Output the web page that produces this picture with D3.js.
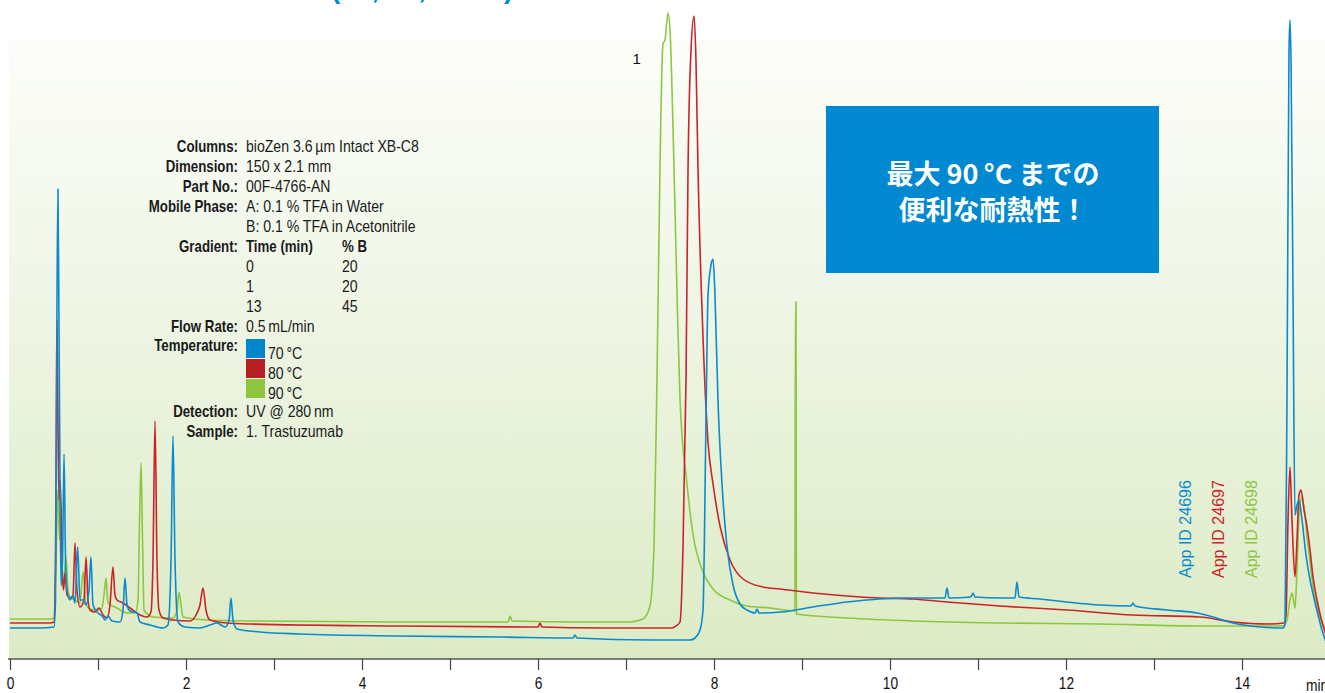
<!DOCTYPE html>
<html>
<head>
<meta charset="utf-8">
<script src="https://cdn.jsdelivr.net/npm/d3@7"></script>
<style>
  html, body { margin: 0; padding: 0; background: #ffffff; }
  svg { display: block; }
</style>
</head>
<body>
<svg id="chart" width="1325" height="693"></svg>
<script>
// Chromatogram traces: [retention time (min), UV 280 nm response (mAU)]
const trace70 = [
  [0,6.2],[0.341,6.2],[0.5,6.4],[0.517,11.8],[0.534,71.8],[0.545,94.0],[0.557,65.8],[0.568,36.8],
  [0.58,14.8],[0.597,19.8],[0.614,41.0],[0.631,19.8],[0.648,13.8],[0.682,11.8],[0.716,12.6],[0.739,11.2],
  [0.769,22.4],[0.795,11.8],[0.83,11.8],[0.864,10.8],[0.898,13.8],[0.92,20.4],[0.943,10.8],[1.0,9.2],
  [1.057,8.4],[1.08,7.8],[1.114,8.6],[1.159,7.6],[1.25,7.4],[1.284,9.8],[1.307,16.2],[1.33,10.8],
  [1.364,9.6],[1.443,9.2],[1.477,7.4],[1.591,6.8],[1.739,6.2],[1.795,6.8],[1.83,19.8],[1.852,44.6],
  [1.875,19.8],[1.909,7.4],[1.989,6.4],[2.159,6.2],[2.273,6.8],[2.352,7.2],[2.443,6.4],[2.489,7.8],
  [2.511,12.2],[2.534,7.8],[2.58,6.0],[2.841,5.4],[3.295,5.0],[4.432,4.6],[5.568,4.4],[6.398,4.2],
  [6.42,4.8],[6.443,4.2],[7.273,3.8],[7.727,3.8],[7.784,4.2],[7.841,5.8],[7.875,9.8],[7.909,47.6],
  [7.932,72.8],[7.966,78.8],[7.989,80.0],[8.011,72.8],[8.045,51.8],[8.091,35.0],[8.148,22.4],[8.216,14.8],
  [8.295,11.0],[8.375,9.8],[8.466,9.2],[8.489,10.0],[8.511,9.2],[8.761,9.4],[9.125,10.4],[9.511,11.4],
  [9.886,12.0],[10.261,12.2],[10.625,12.2],[10.648,14.2],[10.67,12.2],[10.92,12.4],[10.943,13.2],[10.966,12.4],
  [11.25,12.2],[11.42,12.2],[11.443,15.4],[11.466,12.4],[11.705,12.0],[12.011,11.4],[12.386,10.8],[12.739,10.6],
  [12.761,11.2],[12.784,10.6],[13.148,9.8],[13.489,9.2],[13.67,8.4],[13.898,7.2],[14.205,6.4],[14.466,6.2],
  [14.489,7.0],[14.511,51.8],[14.534,121.8],[14.545,127.8],[14.557,119.8],[14.58,71.8],[14.602,28.8],[14.625,30.8],
  [14.648,31.8],[14.682,27.8],[14.727,20.8],[14.773,15.8],[14.818,12.2],[14.864,8.8],[14.909,5.8],[14.955,3.4]
];

const trace80 = [
  [0,7.2],[0.455,7.2],[0.5,7.4],[0.517,19.8],[0.528,51.8],[0.534,67.8],[0.545,47.8],[0.557,31.8],
  [0.568,35.8],[0.58,30.4],[0.591,19.8],[0.608,13.8],[0.625,17.2],[0.648,12.8],[0.682,12.2],[0.716,12.8],
  [0.739,23.2],[0.761,13.8],[0.795,10.4],[0.841,11.8],[0.864,20.4],[0.886,11.8],[0.909,9.8],[0.966,9.4],
  [1.011,10.2],[1.057,8.8],[1.102,8.2],[1.136,10.8],[1.17,18.4],[1.193,12.8],[1.216,11.8],[1.284,11.2],
  [1.364,10.2],[1.477,8.8],[1.557,8.4],[1.602,9.4],[1.625,19.8],[1.648,47.6],[1.67,19.8],[1.693,9.8],
  [1.739,8.2],[1.852,7.8],[2.045,7.6],[2.114,8.8],[2.159,10.8],[2.193,14.2],[2.227,9.8],[2.273,7.8],
  [2.466,7.2],[2.727,7.0],[4.432,6.6],[6.0,6.4],[6.023,7.2],[6.045,6.4],[6.705,6.2],[7.386,6.2],
  [7.523,6.2],[7.568,6.6],[7.614,7.4],[7.648,22.4],[7.682,56.0],[7.705,98.2],[7.739,121.8],[7.773,128.6],
  [7.795,119.8],[7.818,98.2],[7.875,64.4],[7.932,43.4],[7.989,35.0],[8.068,26.6],[8.182,19.8],[8.33,16.0],
  [8.557,14.4],[8.75,14.0],[9.125,13.2],[9.511,12.6],[9.886,12.2],[10.261,12.0],[10.648,11.4],[11.25,10.6],
  [12.011,9.8],[12.761,8.8],[13.523,8.4],[13.898,7.4],[14.284,7.0],[14.477,7.2],[14.5,8.8],[14.523,27.8],
  [14.545,38.4],[14.568,27.8],[14.602,16.4],[14.625,23.8],[14.648,32.8],[14.67,33.8],[14.705,29.8],[14.739,26.4],
  [14.773,21.8],[14.807,16.4],[14.852,11.8],[14.898,8.2],[14.955,4.8]
];

const trace90 = [
  [0,8.0],[0.455,8.0],[0.5,8.2],[0.523,19.8],[0.545,33.8],[0.563,23.8],[0.568,33.2],[0.591,14.4],
  [0.614,15.8],[0.636,20.4],[0.659,13.8],[0.682,12.4],[0.739,11.8],[0.795,11.2],[0.83,17.4],[0.864,10.8],
  [0.909,10.0],[0.989,9.8],[1.045,10.2],[1.068,12.8],[1.091,16.2],[1.114,11.2],[1.216,10.2],[1.33,9.2],
  [1.42,9.2],[1.455,11.8],[1.472,27.8],[1.489,39.2],[1.506,23.8],[1.523,9.8],[1.625,8.4],[1.852,8.2],
  [1.898,9.8],[1.92,13.4],[1.943,10.8],[1.966,8.4],[2.239,7.8],[2.727,7.6],[4.432,7.4],[5.659,7.4],
  [5.682,8.6],[5.705,7.6],[6.477,7.4],[7.045,7.4],[7.193,8.0],[7.273,10.6],[7.318,22.4],[7.352,56.0],
  [7.386,98.2],[7.42,123.0],[7.443,123.8],[7.477,129.2],[7.5,125.8],[7.534,106.6],[7.58,72.8],[7.614,51.8],
  [7.693,35.0],[7.761,25.0],[7.875,17.4],[7.989,14.0],[8.182,11.8],[8.375,10.6],[8.636,10.2],[8.92,9.6],
  [8.925,71.4],[8.932,71.4],[8.936,9.0],[9.511,8.2],[10.261,7.6],[11.25,7.2],[12.386,7.0],[13.523,6.6],
  [14.466,6.6],[14.511,7.8],[14.545,11.8],[14.568,13.2],[14.591,11.2],[14.602,10.2],[14.625,17.8],[14.648,28.8],
  [14.682,32.4],[14.716,28.8],[14.739,24.4],[14.773,19.4],[14.807,14.4],[14.852,10.4],[14.898,7.8],[14.955,5.4]
];

const temperatures = ["70\u2009°C", "80\u2009°C", "90\u2009°C"];
const traceColors = ["#0a8acf", "#cc2229", "#8dc63f"];
const swatchColors = ["#0086cd", "#b81f25", "#8cc63e"];
const appIds = ["App ID 24696", "App ID 24697", "App ID 24698"];

const xTickValues = [0,1,2,3,4,5,6,7,8,9,10,11,12,13,14];
const xTickLabels = ["0","","2","","4","","6","","8","","10","","12","","14"];

const methodRows = [
  ["Columns:", "bioZen 3.6\u2009µm Intact XB-C8"],
  ["Dimension:", "150 x 2.1 mm"],
  ["Part No.:", "00F-4766-AN"],
  ["Mobile Phase:", "A: 0.1 % TFA in Water"],
  ["", "B: 0.1 % TFA in Acetonitrile"]
];
const gradientHeader = ["Time (min)", "% B"];
const gradientSteps = [["0", "20"], ["1", "20"], ["13", "45"]];
const flowRate = "0.5\u2009mL/min";
const detection = "UV @ 280\u2009nm";
const sample = "1. Trastuzumab";

const calloutLines = ["最大 90\u2009°C までの", "便利な耐熱性！"];

// ---- drawing ----
const svg = d3.select("#chart");
const W = 1325, H = 693;
const SANS = "Liberation Sans, Arial, Helvetica, sans-serif";

const x = d3.scaleLinear().domain([0, 15]).range([10, 1330]);
const y = d3.scaleLinear().domain([0, 130]).range([659, 9]);

// condensed text: a regular face squeezed horizontally
function ctext(g, xx, yy, t, opts) {
  const o = Object.assign({ sx: 0.86, size: 16, bold: false, anchor: "start", fill: "#1a1a1a" }, opts || {});
  return g.append("text")
    .attr("transform", `scale(${o.sx},1)`)
    .attr("x", xx / o.sx).attr("y", yy)
    .attr("font-family", SANS).attr("font-size", o.size)
    .attr("font-weight", o.bold ? "bold" : "normal")
    .attr("text-anchor", o.anchor).attr("fill", o.fill).text(t);
}

// plot background
const defs = svg.append("defs");
const grad = defs.append("linearGradient").attr("id", "bg").attr("x1", 0).attr("x2", 0).attr("y1", 0).attr("y2", 1);
grad.append("stop").attr("offset", "0%").attr("stop-color", "#fcfdf9");
grad.append("stop").attr("offset", "45%").attr("stop-color", "#eef5e4");
grad.append("stop").attr("offset", "100%").attr("stop-color", "#dcebc5");
svg.append("rect").attr("x", 9).attr("y", 40).attr("width", W - 9).attr("height", 619).attr("fill", "url(#bg)");

// title, clipped by the top edge
svg.append("text").attr("x", 331).attr("y", -2)
  .attr("font-family", SANS).attr("font-weight", "bold")
  .attr("font-size", 28).attr("fill", "#0088cf").text("(70, 80, 90 °C)");

// traces
const line = d3.line().x(d => x(d[0])).y(d => y(d[1])).curve(d3.curveMonotoneX);
const traces = [trace90, trace80, trace70];
const order = [2, 1, 0];
svg.append("g").selectAll("path").data(traces).join("path")
  .attr("d", line)
  .attr("fill", "none")
  .attr("stroke", (d, i) => traceColors[order[i]])
  .attr("stroke-width", 1.6)
  .attr("stroke-linejoin", "round");

// x axis
const axis = d3.axisBottom(x).tickValues(xTickValues)
  .tickFormat((d, i) => xTickLabels[i]).tickSize(11).tickSizeOuter(0).tickPadding(8);
const gx = svg.append("g").attr("transform", "translate(0,659)").call(axis);
gx.select(".domain").attr("stroke", "#555").attr("stroke-width", 1.6).attr("d", "M8,0H1325");
gx.selectAll(".tick line").attr("stroke", "#444").attr("stroke-width", 1.2);
gx.selectAll(".tick text")
  .attr("font-family", SANS).attr("font-size", 16).attr("fill", "#111")
  .attr("transform", "scale(0.86,1)");
ctext(svg, 1306, 691, "min", { fill: "#111" });

// peak label
svg.append("text").attr("x", x(7.12)).attr("y", 64)
  .attr("font-family", SANS).attr("font-size", 15)
  .attr("text-anchor", "middle").attr("fill", "#111").text("1");

// method block
const labelX = 238, valueX = 246, col2X = 342;
const info = svg.append("g");
const label = (t, yy) => ctext(info, labelX, yy, t, { bold: true, anchor: "end", sx: 0.83 });
const value = (t, xx, yy, bold) => ctext(info, xx, yy, t, { bold: !!bold, sx: bold ? 0.83 : 0.88 });

methodRows.forEach((r, i) => {
  const yy = 152 + i * 20;
  if (r[0]) label(r[0], yy);
  value(r[1], valueX, yy);
});
label("Gradient:", 252);
value(gradientHeader[0], valueX, 252, true);
value(gradientHeader[1], col2X, 252, true);
gradientSteps.forEach((s, i) => {
  value(s[0], valueX, 272 + i * 20);
  value(s[1], col2X, 272 + i * 20);
});
label("Flow Rate:", 332);
value(flowRate, valueX, 332);
label("Temperature:", 351);
temperatures.forEach((t, i) => {
  info.append("rect").attr("x", 246).attr("y", 339 + i * 20).attr("width", 19).attr("height", 19)
    .attr("fill", swatchColors[i]);
  value(t, 268, 359 + i * 20);
});
label("Detection:", 417);
value(detection, valueX, 417);
label("Sample:", 437);
value(sample, valueX, 437);

// callout box
svg.append("rect").attr("x", 826).attr("y", 106).attr("width", 333).attr("height", 167).attr("fill", "#0089d0");
calloutLines.forEach((t, i) => {
  svg.append("text").attr("x", 993).attr("y", 184 + i * 36)
    .attr("font-family", "Noto Sans CJK JP, sans-serif").attr("font-weight", "bold")
    .attr("font-size", 27).attr("fill", "#ffffff").attr("text-anchor", "middle").text(t);
});

// run identifiers
const idX = [1191, 1224, 1257];
appIds.forEach((t, i) => {
  svg.append("text").attr("transform", `translate(${idX[i]},578) rotate(-90)`)
    .attr("font-family", SANS).attr("font-size", 16)
    .attr("fill", traceColors[i]).text(t);
});
</script>
</body>
</html>
